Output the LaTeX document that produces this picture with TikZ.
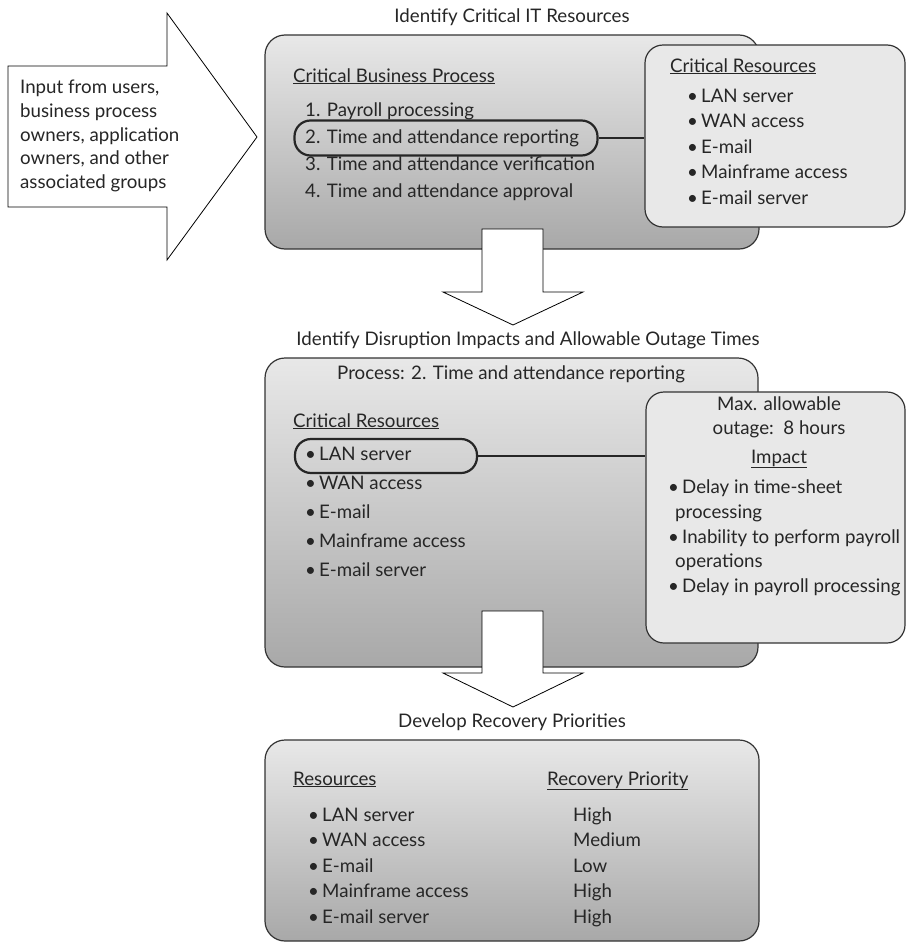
\documentclass[tikz,border=0pt]{standalone}
\usepackage{fontspec}
\setmainfont{Lato}
\usetikzlibrary{positioning}

\begin{document}
\begin{tikzpicture}[x=1pt,y=-1pt,font=\fontsize{18.7}{22}\selectfont,
  every node/.append style={text=black!85},
  stage/.style={draw=black!80,line width=1.2pt,rounded corners=20pt,top color=black!9,bottom color=black!34},
  panel/.style={draw=black!80,line width=1.2pt,rounded corners=18pt,fill=black!9},
  item/.style={inner sep=0pt,anchor=base west},
  head/.style={inner sep=0pt,anchor=base},
  pick/.style={draw=black!85,line width=2.2pt,rounded corners=16pt},
  link/.style={draw=black!85,line width=2pt},
  bigarrow/.style={draw=black,line width=0.8pt,fill=white}]
\useasboundingbox (0,0) rectangle (906,945);

\draw[bigarrow] (8,66) -- (167,66) -- (167,13) -- (257,137) -- (167,260) -- (167,207) -- (8,207) -- cycle;
\node[item] (in1) at (20,93) {Input from users,};
\node[below=24pt of in1.base west,item] (in2) {business process};
\node[below=24pt of in2.base west,item] (in3) {owners, application};
\node[below=23pt of in3.base west,item] (in4) {owners, and other};
\node[below=24pt of in4.base west,item] (in5) {associated groups};

\node[head] (title1) at (512,22) {Identify Critical IT Resources};
\node[stage,minimum width=494pt,minimum height=214pt] (box1) at (512,142) {};
\node[panel,minimum width=260pt,minimum height=182pt] (crit1) at (775,136) {};
\node[item] (proc) at (293,82) {\underline{Critical Business Process}};
\node[item] (p1) at (305,116) {1. Payroll processing};
\node[below=27pt of p1.base west,item] (p2) {2. Time and attendance reporting};
\node[below=27pt of p2.base west,item] (p3) {3. Time and attendance verification};
\node[below=27pt of p3.base west,item] (p4) {4. Time and attendance approval};
\node[pick,minimum width=303pt,minimum height=35pt] (sel1) at (446,138) {};
\node[item] (res1) at (670,72) {\underline{Critical Resources}};
\node[item] (r1) at (687,102) {•\,LAN server};
\node[below=25.5pt of r1.base west,item] (r2) {•\,WAN access};
\node[below=25.5pt of r2.base west,item] (r3) {•\,E-mail};
\node[below=25.5pt of r3.base west,item] (r4) {•\,Mainframe access};
\node[below=25.5pt of r4.base west,item] (r5) {•\,E-mail server};
\draw[link] (sel1.east) -- (sel1.east -| crit1.west);

\draw[bigarrow] (482,229) -- (543,229) -- (543,292) -- (583,292) -- (513,325) -- (443,292) -- (482,292) -- cycle;

\node[head] (title2) at (528,345) {Identify Disruption Impacts and Allowable Outage Times};
\node[stage,minimum width=493pt,minimum height=309pt] (box2) at (511.5,512.5) {};
\node[panel,minimum width=259pt,minimum height=251pt] (crit2) at (775.5,517.5) {};
\node[item] (sel) at (337,379) {Process: 2. Time and attendance reporting};
\node[item] (res2) at (293,427) {\underline{Critical Resources}};
\node[item] (c1) at (305,460) {•\,LAN server};
\node[below=29pt of c1.base west,item] (c2) {•\,WAN access};
\node[below=29pt of c2.base west,item] (c3) {•\,E-mail};
\node[below=29pt of c3.base west,item] (c4) {•\,Mainframe access};
\node[below=29pt of c4.base west,item] (c5) {•\,E-mail server};
\node[pick,minimum width=182pt,minimum height=34pt] (sel2) at (386,456) {};
\draw[link] (sel2.east) -- (sel2.east -| crit2.west);
\node[head] (max1) at (779,410) {Max. allowable};
\node[head] (max2) at (779,434) {outage:\ \ 8 hours};
\node[head] (imp) at (779,463) {\underline{Impact}};
\node[item] (i1) at (668,493) {•\,Delay in time-sheet};
\node[item] (i1b) at (675,518) {processing};
\node[item] (i2) at (668,543) {•\,Inability to perform payroll};
\node[item] (i2b) at (675,567) {operations};
\node[item] (i3) at (668,592) {•\,Delay in payroll processing};

\draw[bigarrow] (482,611) -- (543,611) -- (543,673) -- (583,673) -- (513,707) -- (443,673) -- (482,673) -- cycle;

\node[head] (title3) at (512,727) {Develop Recovery Priorities};
\node[stage,minimum width=494pt,minimum height=201pt] (box3) at (512,840.5) {};
\node[item] (res3) at (293,785) {\underline{Resources}};
\node[item] (prio) at (547,785) {\underline{Recovery Priority}};
\node[item] (b1) at (308,821) {•\,LAN server};
\node[below=25.5pt of b1.base west,item] (b2) {•\,WAN access};
\node[below=25.5pt of b2.base west,item] (b3) {•\,E-mail};
\node[below=25.5pt of b3.base west,item] (b4) {•\,Mainframe access};
\node[below=25.5pt of b4.base west,item] (b5) {•\,E-mail server};
\node[item] (h1) at (573,821) {High};
\node[below=25.5pt of h1.base west,item] (h2) {Medium};
\node[below=25.5pt of h2.base west,item] (h3) {Low};
\node[below=25.5pt of h3.base west,item] (h4) {High};
\node[below=25.5pt of h4.base west,item] (h5) {High};
\end{tikzpicture}
\end{document}
